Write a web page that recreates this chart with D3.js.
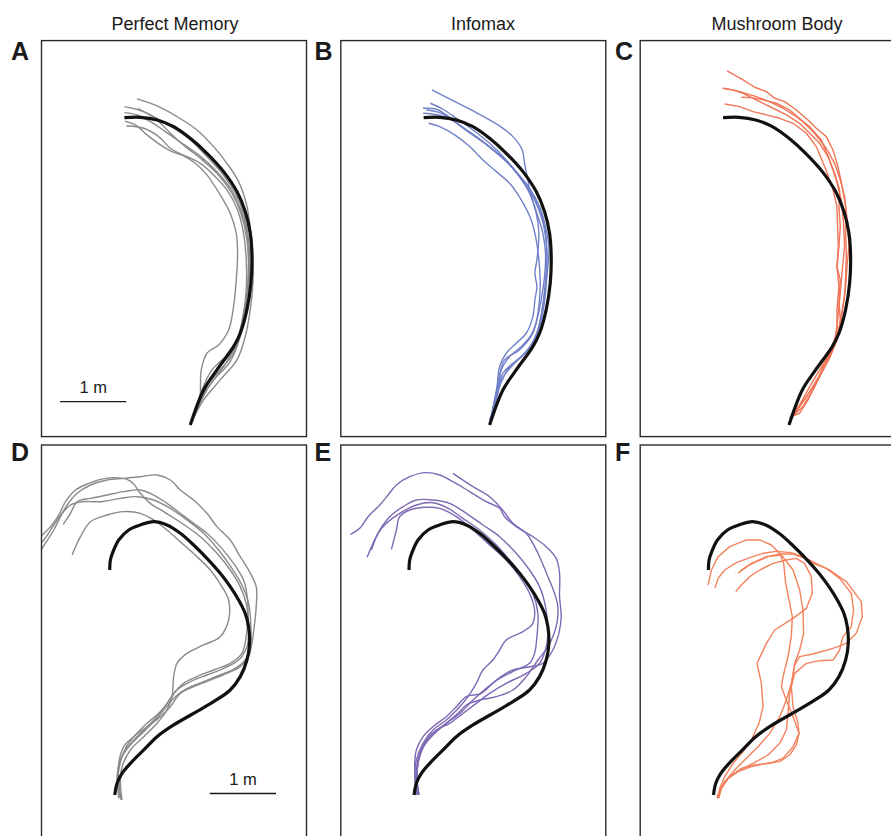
<!DOCTYPE html>
<html>
<head>
<meta charset="utf-8">
<script src="https://cdn.jsdelivr.net/npm/d3@7"></script>
<style>
  body { margin: 0; background: #fff; }
  svg { display: block; font-family: "Liberation Sans", Arial, Helvetica, sans-serif; }
</style>
</head>
<body>
<svg id="chart" width="891" height="836"></svg>
<script>
// Arena coordinates in metres: x to the right, y upwards (arena is 4 m x 6 m).
// Every path is listed from its start (bottom) to its end.

const modelTitles = ["Perfect Memory", "Infomax", "Mushroom Body"];
const panelLetters = ["A", "B", "C", "D", "E", "F"];

// Training route, first environment (top row)
const routeTop = [
  [2.246,0.177],[2.447,0.707],[2.648,1.010],[2.899,1.364],[3.0,1.566],[3.10,1.919],
  [3.161,2.323],[3.176,2.727],[3.151,3.081],[3.075,3.409],[2.95,3.712],[2.749,4.015],
  [2.497,4.293],[2.246,4.52],[1.995,4.697],[1.744,4.798],[1.492,4.838],[1.251,4.833]
];

// Training route, second environment (bottom row)
const routeBottom = [
  [1.106,0.697],[1.141,0.874],[1.216,1.025],[1.367,1.202],[1.543,1.379],[1.744,1.581],
  [1.995,1.758],[2.296,1.934],[2.598,2.111],[2.849,2.288],[3.0,2.490],[3.101,2.742],
  [3.141,2.995],[3.126,3.247],[3.075,3.449],[2.975,3.652],[2.849,3.854],[2.698,4.056],
  [2.497,4.283],[2.296,4.485],[2.095,4.662],[1.894,4.788],[1.693,4.838],[1.492,4.788],
  [1.317,4.712],[1.166,4.561],[1.080,4.384],[1.040,4.258],[1.030,4.106]
];

// Recapitulated trajectories – Perfect Memory, route 1
const perfectMemoryTop = [
  [[2.271,0.227],[2.447,0.556],[2.698,0.859],[2.950,1.162],[3.075,1.515],[3.151,1.919],[3.191,2.323],
   [3.191,2.778],[3.151,3.182],[3.090,3.535],[2.975,3.864],[2.799,4.141],[2.598,4.394],[2.347,4.646],
   [2.045,4.848],[1.744,5.010],[1.442,5.116]],
  [[2.271,0.227],[2.422,0.606],[2.523,0.808],[2.698,1.010],[2.899,1.263],[3.025,1.616],[3.111,2.071],
   [3.141,2.576],[3.126,2.980],[3.050,3.384],[2.925,3.687],[2.724,3.990],[2.497,4.242],[2.246,4.495],
   [1.995,4.672],[1.744,4.823],[1.492,4.939],[1.251,5.0]],
  [[2.271,0.227],[2.397,0.556],[2.598,0.859],[2.849,1.136],[3.0,1.515],[3.090,1.970],[3.126,2.475],
   [3.101,2.980],[3.010,3.384],[2.874,3.687],[2.648,3.990],[2.397,4.217],[2.171,4.394],[1.945,4.596],
   [1.744,4.798],[1.593,4.899],[1.452,4.975]],
  [[2.271,0.227],[2.387,0.556],[2.412,1.010],[2.497,1.263],[2.673,1.389],[2.824,1.616],[2.899,1.970],
   [2.940,2.374],[2.960,2.778],[2.940,3.081],[2.849,3.384],[2.698,3.662],[2.497,3.965],[2.322,4.141],
   [2.121,4.268],[1.945,4.369],[1.769,4.545],[1.543,4.672],[1.281,4.707]],
  [[2.271,0.227],[2.422,0.707],[2.573,1.010],[2.774,1.212],[2.950,1.465],[3.040,1.818],[3.090,2.222],
   [3.090,2.677],[3.050,3.081],[2.960,3.434],[2.799,3.737],[2.598,3.965],[2.397,4.141],[2.196,4.242],
   [1.970,4.318],[1.794,4.420],[1.593,4.571],[1.420,4.720],[1.261,4.780]],
  [[2.271,0.227],[2.497,0.707],[2.749,1.061],[2.925,1.364],[3.025,1.717],[3.101,2.172],[3.126,2.626],
   [3.101,3.081],[3.010,3.434],[2.849,3.763],[2.623,4.040],[2.372,4.268],[2.121,4.444],[1.869,4.621],
   [1.643,4.773],[1.442,4.874],[1.251,4.909]]
];

// Recapitulated trajectories – Infomax, route 1
const infomaxTop = [
  [[2.246,0.253],[2.372,0.657],[2.422,1.010],[2.548,1.212],[2.724,1.364],[2.874,1.540],[2.960,1.768],
   [3.025,2.071],[3.075,2.424],[3.090,2.778],[3.050,3.081],[2.960,3.384],[2.864,3.687],[2.814,3.939],
   [2.774,4.141],[2.739,4.343],[2.598,4.545],[2.397,4.707],[2.045,4.909],[1.693,5.091],[1.377,5.253]],
  [[2.256,0.253],[2.347,0.657],[2.397,1.061],[2.497,1.263],[2.648,1.414],[2.799,1.566],[2.899,1.818],
   [2.930,2.071],[2.960,2.273],[2.930,2.475],[2.960,2.677],[2.990,3.081],[2.950,3.384],[2.849,3.687],
   [2.698,3.939],[2.497,4.192],[2.246,4.444],[1.995,4.646],[1.744,4.823],[1.543,4.960],[1.352,5.051]],
  [[2.271,0.278],[2.397,0.758],[2.548,1.061],[2.749,1.237],[2.925,1.465],[3.025,1.768],[3.090,2.172],
   [3.111,2.576],[3.101,2.929],[3.040,3.283],[2.925,3.586],[2.749,3.864],[2.548,4.116],[2.296,4.343],
   [2.045,4.545],[1.794,4.722],[1.593,4.874],[1.442,4.960],[1.241,4.975]],
  [[2.271,0.278],[2.422,0.859],[2.623,1.111],[2.824,1.313],[2.975,1.616],[3.050,1.970],[3.090,2.374],
   [3.111,2.828],[3.075,3.182],[2.975,3.510],[2.824,3.788],[2.623,4.040],[2.397,4.268],[2.146,4.470],
   [1.894,4.646],[1.668,4.798],[1.467,4.874],[1.241,4.899]],
  [[2.271,0.278],[2.372,0.808],[2.472,1.162],[2.698,1.313],[2.899,1.566],[2.975,1.869],[3.010,2.273],
   [2.990,2.677],[2.950,2.980],[2.874,3.283],[2.724,3.586],[2.548,3.838],[2.347,4.015],[2.146,4.192],
   [1.945,4.394],[1.719,4.571],[1.492,4.697],[1.327,4.747]],
  [[2.271,0.278],[2.447,0.960],[2.698,1.187],[2.899,1.414],[3.0,1.717],[3.060,2.071],[3.126,2.576],
   [3.141,2.879],[3.101,3.131],[3.0,3.485],[2.849,3.763],[2.648,4.015],[2.422,4.242],[2.171,4.444],
   [1.920,4.621],[1.693,4.788],[1.492,4.909],[1.291,4.949]]
];

// Recapitulated trajectories – Mushroom Body, route 1
const mushroomBodyTop = [
  [[2.281,0.303],[2.407,0.354],[2.533,0.556],[2.658,0.808],[2.759,1.061],[2.859,1.263],[2.935,1.414],
   [3.010,1.667],[3.060,1.970],[3.101,2.273],[3.121,2.576],[3.151,2.879],[3.136,3.182],[3.101,3.485],
   [3.050,3.788],[2.985,4.091],[2.910,4.343],[2.809,4.545],[2.658,4.672],[2.533,4.798],[2.357,4.949],
   [2.181,5.076],[2.030,5.126],[1.905,5.227],[1.729,5.293],[1.553,5.404],[1.312,5.540]],
  [[2.266,0.278],[2.457,0.455],[2.608,0.707],[2.734,0.960],[2.859,1.187],[2.970,1.465],[3.020,1.768],
   [3.0,2.071],[3.020,2.374],[2.970,2.576],[3.0,2.879],[3.020,3.182],[3.0,3.485],[3.010,3.737],
   [2.935,3.990],[2.834,4.242],[2.709,4.444],[2.558,4.596],[2.407,4.747],[2.206,4.874],[2.005,4.975],
   [1.804,5.076],[1.553,5.202],[1.402,5.253],[1.241,5.278]],
  [[2.296,0.303],[2.482,0.556],[2.633,0.808],[2.759,1.010],[2.884,1.263],[2.985,1.515],[3.035,1.818],
   [3.085,2.121],[3.101,2.424],[3.111,2.778],[3.101,3.081],[3.111,3.384],[3.085,3.636],[3.020,3.889],
   [2.935,4.141],[2.809,4.369],[2.633,4.596],[2.432,4.798],[2.256,4.949],[2.055,5.051],[1.854,5.101],
   [1.678,5.136],[1.528,5.141]],
  [[2.281,0.278],[2.508,0.606],[2.683,0.859],[2.809,1.111],[2.910,1.364],[2.970,1.616],[2.970,1.919],
   [3.0,2.273],[2.970,2.576],[2.990,2.879],[2.980,3.182],[2.970,3.485],[2.899,3.788],[2.784,4.091],
   [2.658,4.394],[2.508,4.596],[2.307,4.747],[2.106,4.823],[1.905,4.874],[1.704,4.924],[1.503,5.0],
   [1.276,5.040]],
  [[2.256,0.278],[2.407,0.480],[2.558,0.758],[2.709,1.010],[2.859,1.263],[2.950,1.515],[2.985,1.818],
   [3.020,2.172],[3.050,2.525],[3.085,2.879],[3.070,3.232],[3.035,3.586],[2.960,3.889],[2.859,4.192],
   [2.734,4.495],[2.558,4.697],[2.357,4.848],[2.156,4.975],[1.955,5.076],[1.754,5.152],[1.503,5.227],
   [1.261,5.278]]
];

// Recapitulated trajectories – Perfect Memory, route 2
const perfectMemoryBottom = [
  [[1.166,0.646],[1.151,0.924],[1.191,1.202],[1.281,1.429],[1.417,1.606],[1.593,1.783],[1.769,1.934],
   [1.920,2.111],[2.045,2.288],[2.246,2.414],[2.497,2.515],[2.749,2.616],[2.975,2.742],[3.101,2.944],
   [3.126,3.197],[3.101,3.551],[3.0,3.854],[2.849,4.106],[2.648,4.359],[2.397,4.611],[2.045,4.864],
   [1.844,4.990],[1.643,5.116],[1.492,5.268],[1.392,5.409],[1.291,5.480],[1.090,5.505],[0.889,5.480],
   [0.714,5.419],[0.513,5.318],[0.362,5.141],[0.261,4.939],[0.136,4.763],[0.010,4.636],[-0.065,4.561]],
  [[1.201,0.621],[1.166,0.924],[1.166,1.177],[1.241,1.429],[1.392,1.581],[1.593,1.732],[1.794,1.884],
   [1.945,2.035],[2.095,2.237],[2.296,2.338],[2.548,2.439],[2.799,2.540],[3.0,2.641],[3.126,2.793],
   [3.176,2.995],[3.211,3.247],[3.241,3.551],[3.241,3.854],[3.126,4.106],[3.0,4.308],[2.849,4.561],
   [2.648,4.763],[2.497,4.965],[2.296,5.167],[2.095,5.318],[1.945,5.470],[1.744,5.545],[1.492,5.520],
   [1.241,5.495],[0.990,5.470],[0.739,5.394],[0.538,5.268],[0.387,5.091],[0.286,4.914],[0.186,4.712],
   [0.010,4.434],[-0.065,4.308]],
  [[1.191,0.646],[1.166,0.874],[1.166,1.126],[1.266,1.379],[1.392,1.530],[1.543,1.682],[1.744,1.884],
   [1.894,2.086],[1.995,2.237],[2.146,2.389],[2.347,2.490],[2.598,2.591],[2.849,2.692],[3.025,2.843],
   [3.090,3.096],[3.111,3.348],[3.111,3.652],[3.050,3.955],[2.899,4.207],[2.698,4.460],[2.497,4.662],
   [2.296,4.813],[2.095,4.965],[1.894,5.116],[1.693,5.242],[1.492,5.318],[1.241,5.293],[0.990,5.242],
   [0.739,5.192],[0.538,5.141],[0.437,4.965],[0.327,4.798]],
  [[1.216,0.621],[1.191,0.874],[1.216,1.126],[1.342,1.379],[1.543,1.581],[1.744,1.783],[1.894,1.985],
   [1.970,2.187],[1.995,2.490],[2.045,2.692],[2.196,2.843],[2.447,2.970],[2.698,3.096],[2.824,3.348],
   [2.824,3.652],[2.724,3.854],[2.548,4.106],[2.347,4.308],[2.121,4.510],[1.894,4.712],[1.693,4.864],
   [1.492,4.965],[1.241,4.990],[0.990,4.939],[0.739,4.838],[0.588,4.611],[0.462,4.333]],
  [[1.181,0.672],[1.141,0.975],[1.201,1.253],[1.342,1.455],[1.518,1.631],[1.719,1.833],[1.869,2.010],
   [2.020,2.187],[2.196,2.313],[2.447,2.414],[2.698,2.515],[2.925,2.616],[3.075,2.742],[3.151,2.944],
   [3.161,3.247],[3.126,3.601],[3.025,3.879],[2.874,4.131],[2.673,4.409],[2.447,4.662],[2.196,4.864],
   [1.945,5.040],[1.693,5.167],[1.442,5.217],[1.191,5.192],[0.889,5.141],[0.613,5.141],[0.437,5.091],
   [0.312,4.965],[0.186,4.788],[0.035,4.561],[-0.065,4.460]]
];

// Recapitulated trajectories – Infomax, route 2
const infomaxBottom = [
  [[1.166,0.697],[1.141,0.874],[1.116,1.126],[1.141,1.379],[1.241,1.581],[1.392,1.732],[1.593,1.884],
   [1.744,2.035],[1.894,2.187],[2.121,2.237],[2.347,2.439],[2.598,2.591],[2.849,2.641],[3.050,2.692],
   [3.201,2.894],[3.291,3.146],[3.327,3.399],[3.302,3.702],[3.302,4.056],[3.251,4.283],[3.101,4.460],
   [2.899,4.611],[2.648,4.763],[2.472,4.914],[2.397,5.040],[2.196,5.141],[1.945,5.293],[1.693,5.444],
   [1.492,5.545],[1.291,5.581],[1.040,5.520],[0.839,5.394],[0.714,5.242],[0.588,5.091],[0.412,4.914],
   [0.286,4.737],[0.146,4.646]],
  [[1.181,0.697],[1.151,0.924],[1.166,1.177],[1.251,1.429],[1.392,1.606],[1.593,1.783],[1.769,1.934],
   [1.894,2.061],[2.095,2.136],[2.347,2.187],[2.598,2.288],[2.799,2.490],[2.975,2.742],[3.126,2.944],
   [3.251,3.247],[3.276,3.551],[3.226,3.753],[3.126,4.005],[3.0,4.308],[2.899,4.510],[2.799,4.662],
   [2.598,4.813],[2.422,5.040],[2.246,5.217],[1.995,5.369],[1.693,5.571]],
  [[1.151,0.697],[1.141,1.076],[1.191,1.328],[1.291,1.530],[1.442,1.682],[1.643,1.783],[1.844,1.934],
   [2.045,2.086],[2.246,2.237],[2.497,2.389],[2.799,2.540],[3.0,2.692],[3.101,2.944],[3.126,3.197],
   [3.090,3.551],[3.0,3.854],[2.849,4.106],[2.648,4.359],[2.397,4.611],[2.146,4.788],[1.894,4.965],
   [1.643,5.116],[1.392,5.167],[1.141,5.167],[0.940,5.066],[0.739,4.914],[0.588,4.712],[0.487,4.510],
   [0.397,4.298]],
  [[1.141,0.697],[1.116,0.975],[1.141,1.227],[1.241,1.480],[1.392,1.682],[1.593,1.833],[1.794,2.035],
   [1.920,2.187],[2.045,2.389],[2.146,2.591],[2.296,2.742],[2.397,2.894],[2.497,3.045],[2.749,3.172],
   [2.899,3.298],[2.925,3.500],[2.849,3.753],[2.698,4.005],[2.497,4.258],[2.246,4.485],[1.995,4.712],
   [1.744,4.914],[1.492,5.040],[1.291,5.056],[1.040,5.015],[0.889,4.914],[0.839,4.712],[0.764,4.419]],
  [[1.181,0.697],[1.151,0.924],[1.166,1.177],[1.251,1.455],[1.392,1.631],[1.593,1.783],[1.794,1.934],
   [1.995,2.136],[2.196,2.313],[2.397,2.465],[2.648,2.591],[2.849,2.692],[2.925,2.843],[2.960,3.096],
   [2.975,3.449],[2.899,3.753],[2.749,4.005],[2.548,4.258],[2.347,4.485],[2.095,4.712],[1.844,4.889],
   [1.593,5.056],[1.392,5.126],[1.141,5.091],[0.889,4.965],[0.688,4.813],[0.563,4.662],[0.462,4.409]]
];

// Recapitulated trajectories – Mushroom Body, route 2
const mushroomBodyBottom = [
  [[1.176,0.646],[1.226,0.798],[1.327,0.949],[1.477,1.051],[1.678,1.126],[1.905,1.177],[2.106,1.202],
   [2.256,1.303],[2.357,1.455],[2.397,1.631],[2.307,1.884],[2.206,2.136],[2.131,2.338],[2.156,2.490],
   [2.231,2.793],[2.281,3.096],[2.296,3.399],[2.246,3.652],[2.196,3.904],[2.166,4.207],[2.106,4.359],
   [1.980,4.485],[1.804,4.561],[1.603,4.561],[1.352,4.460],[1.176,4.308],[1.075,4.106],[1.025,3.879]],
  [[1.161,0.646],[1.201,0.747],[1.276,0.899],[1.427,1.076],[1.603,1.253],[1.779,1.429],[1.955,1.631],
   [2.106,1.884],[2.206,2.136],[2.281,2.389],[2.332,2.667],[2.407,2.793],[2.608,2.833],[2.910,2.919],
   [3.111,2.995],[3.261,3.146],[3.352,3.399],[3.337,3.626],[3.111,3.929],[2.859,4.106],[2.633,4.217],
   [2.457,4.308],[2.281,4.369],[2.055,4.389],[1.854,4.359],[1.653,4.293],[1.452,4.217],[1.276,4.106],
   [1.176,3.980],[1.126,3.828]],
  [[1.176,0.672],[1.201,0.798],[1.276,0.975],[1.402,1.177],[1.553,1.354],[1.678,1.530],[1.794,1.783],
   [1.854,2.035],[1.829,2.389],[1.764,2.692],[1.905,2.995],[2.030,3.197],[2.307,3.374],[2.508,3.525],
   [2.598,3.753],[2.583,4.005],[2.482,4.207],[2.357,4.283],[2.206,4.258],[2.005,4.207],[1.804,4.106],
   [1.653,4.005],[1.528,3.879],[1.442,3.778]],
  [[1.186,0.646],[1.226,0.798],[1.327,0.949],[1.503,1.076],[1.704,1.177],[1.930,1.303],[2.106,1.480],
   [2.206,1.682],[2.231,1.934],[2.256,2.237],[2.332,2.540],[2.508,2.692],[2.709,2.732],[2.910,2.742],
   [3.010,2.894],[3.060,3.096],[3.186,3.247],[3.221,3.500],[3.186,3.753],[3.010,3.980],[2.809,4.131],
   [2.608,4.207],[2.482,4.283],[2.307,4.348],[2.106,4.348],[1.930,4.308],[1.754,4.232],[1.603,4.157],
   [1.477,4.056]],
  [[1.161,0.672],[1.226,0.823],[1.352,0.975],[1.528,1.101],[1.729,1.152],[1.955,1.177],[2.156,1.253],
   [2.307,1.429],[2.397,1.631],[2.382,1.783],[2.307,2.035],[2.281,2.338],[2.332,2.692],[2.407,2.894],
   [2.467,3.146],[2.457,3.500],[2.407,3.803],[2.307,4.106],[2.131,4.333],[1.905,4.308],[1.678,4.207],
   [1.503,4.081]]
];

// ---------------------------------------------------------------------------
// Layout
const arenaW = 4, arenaH = 6;           // metres
const panelW = 265, panelH = 396;       // pixels
const colX = [41.5, 340.8, 640.2];
const rowY = [40.6, 445];
const letterX = [11, 314.5, 615];
const letterBaseline = [60, 461];
const titleX = [175, 483, 777];

const x = d3.scaleLinear().domain([0, arenaW]).range([0, panelW]);
const y = d3.scaleLinear().domain([0, arenaH]).range([panelH, 0]);

const smoothLine = d3.line()
  .x(d => x(d[0]))
  .y(d => y(d[1]))
  .curve(d3.curveCatmullRom.alpha(0.5));

const jaggedLine = d3.line()
  .x(d => x(d[0]))
  .y(d => y(d[1]))
  .curve(d3.curveLinear);

const panels = [
  { row: 0, col: 0, route: routeTop,    tracks: perfectMemoryTop,    color: "#8a8a8a", gen: smoothLine, bar: [0.28, 0.53] },
  { row: 0, col: 1, route: routeTop,    tracks: infomaxTop,          color: "#7181c9", gen: smoothLine },
  { row: 0, col: 2, route: routeTop,    tracks: mushroomBodyTop,     color: "#f07556", gen: jaggedLine },
  { row: 1, col: 0, route: routeBottom, tracks: perfectMemoryBottom, color: "#8a8a8a", gen: smoothLine, bar: [2.54, 0.72] },
  { row: 1, col: 1, route: routeBottom, tracks: infomaxBottom,       color: "#7d69b4", gen: smoothLine },
  { row: 1, col: 2, route: routeBottom, tracks: mushroomBodyBottom,  color: "#f3825d", gen: jaggedLine }
];

const svg = d3.select("#chart");
svg.append("rect").attr("width", 891).attr("height", 836).attr("fill", "#fff");

// Column titles
svg.selectAll("text.title")
  .data(modelTitles)
  .join("text")
  .attr("class", "title")
  .attr("x", (d, i) => titleX[i])
  .attr("y", 30)
  .attr("text-anchor", "middle")
  .attr("font-size", 18)
  .attr("fill", "#1a1a1a")
  .text(d => d);

const defs = svg.append("defs");

panels.forEach((p, i) => {
  const ox = colX[p.col], oy = rowY[p.row];
  const g = svg.append("g").attr("transform", `translate(${ox},${oy})`);

  const clipId = "clip" + i;
  defs.append("clipPath").attr("id", clipId)
    .append("rect").attr("width", panelW).attr("height", panelH);

  const plot = g.append("g").attr("clip-path", `url(#${clipId})`);

  // Trajectories of the agent
  plot.selectAll("path.track")
    .data(p.tracks)
    .join("path")
    .attr("class", "track")
    .attr("d", p.gen)
    .attr("fill", "none")
    .attr("stroke", p.color)
    .attr("stroke-width", 1.4)
    .attr("stroke-linejoin", "round");

  // Training route
  plot.append("path")
    .datum(p.route)
    .attr("d", smoothLine)
    .attr("fill", "none")
    .attr("stroke", "#111")
    .attr("stroke-width", 3.2)
    .attr("stroke-linecap", "butt");

  // Frame
  g.append("rect")
    .attr("width", panelW).attr("height", panelH)
    .attr("fill", "none")
    .attr("stroke", "#2b2b2b")
    .attr("stroke-width", 1.4);

  // Panel letter
  svg.append("text")
    .attr("x", letterX[p.col])
    .attr("y", letterBaseline[p.row])
    .attr("font-size", 25)
    .attr("font-weight", "bold")
    .attr("fill", "#1a1a1a")
    .text(panelLetters[i]);

  // 1 m scale bar
  if (p.bar) {
    const [bx, by] = p.bar;
    g.append("line")
      .attr("x1", x(bx)).attr("x2", x(bx + 1))
      .attr("y1", y(by)).attr("y2", y(by))
      .attr("stroke", "#1a1a1a").attr("stroke-width", 1.4);
    g.append("text")
      .attr("x", x(bx + 0.5))
      .attr("y", y(by) - 8.5)
      .attr("text-anchor", "middle")
      .attr("font-size", 16.5)
      .attr("fill", "#1a1a1a")
      .text("1 m");
  }
});
</script>
</body>
</html>
